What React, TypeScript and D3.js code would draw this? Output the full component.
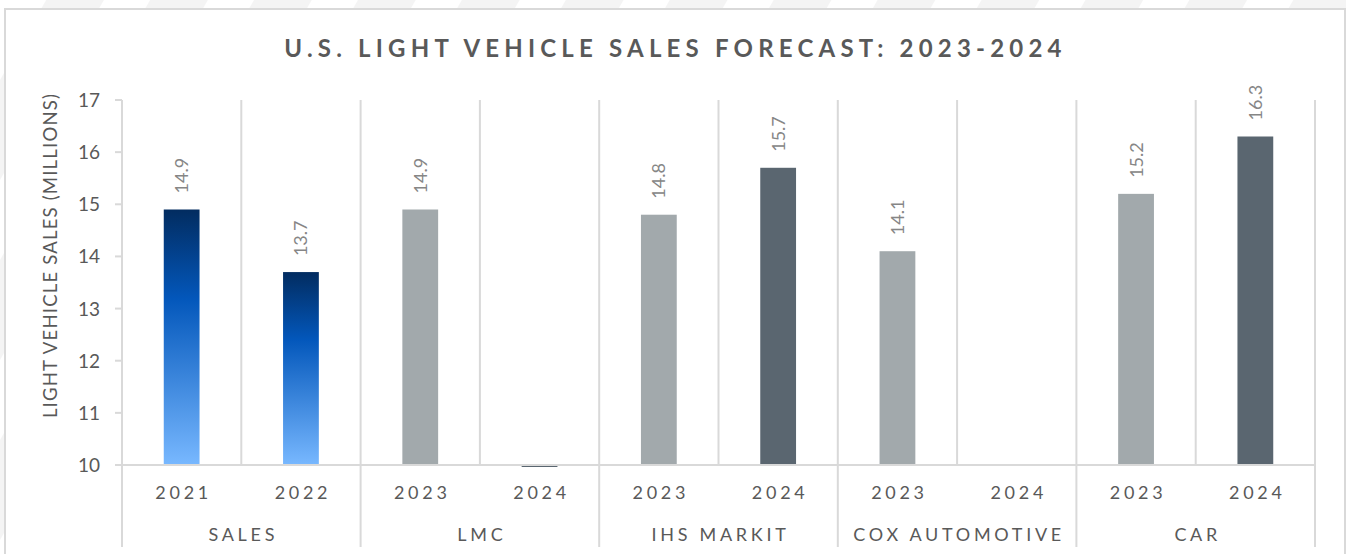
import React from 'react';
import * as d3 from 'd3';

// chart data
const groups = ['SALES', 'LMC', 'IHS MARKIT', 'COX AUTOMOTIVE', 'CAR'];
const slotGroups = ['SALES', 'SALES', 'LMC', 'LMC', 'IHS MARKIT', 'IHS MARKIT', 'COX AUTOMOTIVE', 'COX AUTOMOTIVE', 'CAR', 'CAR'];
const slotYears = ['2021', '2022', '2023', '2024', '2023', '2024', '2023', '2024', '2023', '2024'];
const values: (number | null)[] = [14.9, 13.7, 14.9, 0, 14.8, 15.7, 14.1, null, 15.2, 16.3];
const yTicks = [10, 11, 12, 13, 14, 15, 16, 17];

const W = 1346;
const H = 554;
const font = 'Lato, "Open Sans", sans-serif';
const textColor = '#595959';
const gridColor = '#d9d9d9';

const App = () => {
  const left = 122;
  const right = 1315;
  const y = d3.scaleLinear().domain([10, 17]).range([465, 100]);
  const x = d3.scaleBand<number>().domain(d3.range(values.length)).range([left, right]);
  const gx = d3.scaleBand<string>().domain(groups).range([left, right]);
  const barW = x.bandwidth() * 0.3;

  const fillFor = (year: string) => {
    if (year === '2023') return '#a2a9ac';
    if (year === '2024') return '#5a6670';
    return 'url(#salesGrad)';
  };

  return (
    <svg width={W} height={H} style={{ position: 'absolute', left: 0, top: 0, display: 'block' }}>
      <defs>
        <linearGradient id="salesGrad" x1="0" y1="0" x2="0" y2="1">
          <stop offset="0" stopColor="#022c60" />
          <stop offset="0.35" stopColor="#0357bb" />
          <stop offset="1" stopColor="#78b8ff" />
        </linearGradient>
        <pattern id="stripes" width="90" height="90" patternUnits="userSpaceOnUse" patternTransform="rotate(30)">
          <rect width="90" height="90" fill="#f4f4f4" />
          <rect width="40" height="90" fill="#ffffff" />
        </pattern>
      </defs>

      {/* background + frame */}
      <rect x={0} y={0} width={W} height={H} fill="url(#stripes)" />
      <rect x={5} y={9} width={1340} height={H + 20} fill="#fff" stroke={gridColor} strokeWidth={2} />

      {/* title */}
      <text x={W / 2 + 2.5} y={57} textAnchor="middle" fontFamily={font} fontWeight={700}
        fontSize={24} letterSpacing={5.2} fill={textColor}>
        U.S. LIGHT VEHICLE SALES FORECAST: 2023-2024
      </text>

      {/* vertical gridlines */}
      {d3.range(values.length + 1).map(i => {
        const xx = i < values.length ? x(i)! : right;
        return <line key={'g' + i} x1={xx} x2={xx} y1={y(17)} y2={y(10)} stroke={gridColor} strokeWidth={2} />;
      })}

      {/* group separators below axis */}
      {groups.map(g => (
        <line key={'s' + g} x1={gx(g)} x2={gx(g)} y1={y(10)} y2={547} stroke={gridColor} strokeWidth={2} />
      ))}
      <line x1={right} x2={right} y1={y(10)} y2={547} stroke={gridColor} strokeWidth={2} />

      {/* y axis ticks */}
      {yTicks.map(t => (
        <g key={'t' + t}>
          <line x1={left - 7} x2={left} y1={y(t)} y2={y(t)} stroke={gridColor} strokeWidth={2} />
          <text x={100} y={y(t) + 7} textAnchor="end" fontFamily={font} fontSize={19} fill={textColor}>{t}</text>
        </g>
      ))}
      <line x1={left} x2={left} y1={y(17)} y2={y(10)} stroke={gridColor} strokeWidth={2} />

      {/* y axis title */}
      <text transform={`translate(57,${(y(17) + y(10)) / 2 - 27}) rotate(-90)`} textAnchor="middle"
        fontFamily={font} fontSize={18.5} letterSpacing={1.2} fill={textColor}>
        LIGHT VEHICLE SALES (MILLIONS)
      </text>

      {/* bars */}
      {values.map((v, i) => {
        if (v === null) return null;
        const cx = x(i)! + x.bandwidth() / 2;
        if (v <= 10) {
          return <rect key={'b' + i} x={cx - barW / 2} y={y(10)} width={barW} height={2} fill={fillFor(slotYears[i])} />;
        }
        return (
          <rect key={'b' + i} x={cx - barW / 2} y={y(v)} width={barW} height={y(10) - y(v)}
            fill={fillFor(slotYears[i])} />
        );
      })}

      {/* x axis line */}
      <line x1={left - 7} x2={right} y1={y(10)} y2={y(10)} stroke={gridColor} strokeWidth={2} />

      {/* data labels */}
      {values.map((v, i) => {
        if (v === null || v <= 10) return null;
        const cx = x(i)! + x.bandwidth() / 2;
        return (
          <text key={'l' + i} transform={`translate(${cx + 6.5},${y(v) - 16}) rotate(-90)`}
            fontFamily={font} fontSize={18} fill="#868686">{v.toFixed(1)}</text>
        );
      })}

      {/* year labels */}
      {slotYears.map((yr, i) => (
        <text key={'y' + i} x={x(i)! + x.bandwidth() / 2 + 2} y={498.5} textAnchor="middle"
          fontFamily={font} fontSize={18} letterSpacing={3.7} fill={textColor}>{yr}</text>
      ))}

      {/* group labels */}
      {groups.map(g => (
        <text key={'n' + g} x={gx(g)! + gx.bandwidth() / 2 + 2} y={541} textAnchor="middle"
          fontFamily={font} fontSize={18} letterSpacing={3.7} fill={textColor}>{g}</text>
      ))}
    </svg>
  );
};

export default App;
